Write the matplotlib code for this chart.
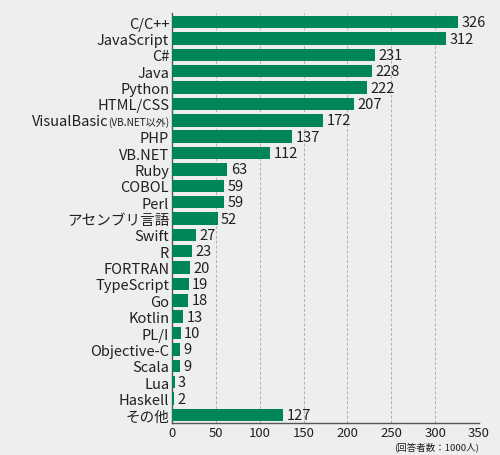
import matplotlib
matplotlib.use("Agg")
import matplotlib.pyplot as plt

plt.rcParams['font.family'] = ['Noto Sans CJK JP', 'DejaVu Sans']

languages = ["C/C++", "JavaScript", "C#", "Java", "Python", "HTML/CSS",
             "VisualBasic(VB.NET以外)", "PHP", "VB.NET", "Ruby", "COBOL", "Perl",
             "アセンブリ言語", "Swift", "R", "FORTRAN", "TypeScript", "Go", "Kotlin",
             "PL/I", "Objective-C", "Scala", "Lua", "Haskell", "その他"]
values = [326, 312, 231, 228, 222, 207, 172, 137, 112, 63, 59, 59, 52, 27, 23,
          20, 19, 18, 13, 10, 9, 9, 3, 2, 127]
x_ticks = [0, 50, 100, 150, 200, 250, 300, 350]
unit_note = "(回答者数：1000人)"

BG = "#edeef0"
GREEN = "#00845a"
TXT = "#231f1f"

fig = plt.figure(figsize=(5.0, 4.56), dpi=100, facecolor=BG)
ax = fig.add_axes([0.344, 0.070, 0.614, 0.899], facecolor=BG)

pos = list(range(len(languages)))
ax.barh(pos, values, height=0.76, color=GREEN, zorder=3)
ax.set_ylim(len(languages) - 0.5, -0.55)
ax.set_xlim(0, 350)

for p, v in zip(pos, values):
    ax.annotate(str(v), xy=(v, p), xytext=(2.5, 0), textcoords='offset points',
                va='center', ha='left', fontsize=10.5, color=TXT, zorder=4)

ax.set_yticks(pos)
labels = list(languages)
vb_idx = 6
labels[vb_idx] = "(VB.NET以外)"
ax.set_yticklabels(labels, fontsize=10.5, color=TXT)
ax.tick_params(axis='y', length=0, pad=2)
tl = ax.get_yticklabels()[vb_idx]
tl.set_fontsize(7.2)
ax.annotate("VisualBasic", xy=(0, 0.5), xycoords=tl, ha='right', va='center',
            fontsize=10.5, color=TXT)

ax.set_xticks(x_ticks)
ax.set_xticklabels([str(t) for t in x_ticks], fontsize=9.5, color=TXT)
ax.tick_params(axis='x', length=0, pad=2)

ax.grid(axis='x', linestyle=(0, (3, 2)), color='#b0b0b0', linewidth=0.7, zorder=0)
ax.set_axisbelow(True)
for s in ['top', 'right']:
    ax.spines[s].set_visible(False)
for s in ['left', 'bottom']:
    ax.spines[s].set_color('#555555')
    ax.spines[s].set_linewidth(1.0)

fig.text(0.958, 0.0197, unit_note, ha='right', va='center', fontsize=6.8, color=TXT)

fig.savefig("out.png", dpi=100, facecolor=BG)
